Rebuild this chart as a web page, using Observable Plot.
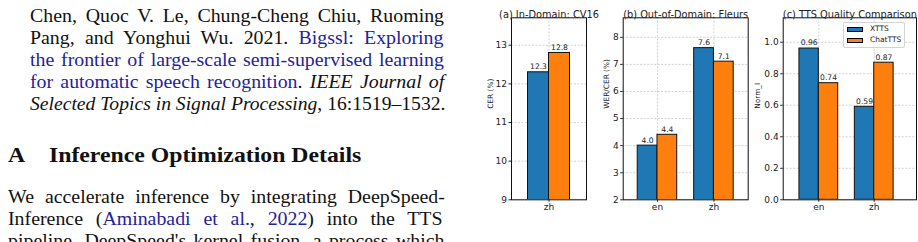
<!DOCTYPE html>
<html><head><meta charset="utf-8">
<script src="https://cdn.jsdelivr.net/npm/d3@7"></script>
<script src="https://cdn.jsdelivr.net/npm/@observablehq/plot@0.6"></script>
<style>
body{margin:0;width:918px;height:242px;overflow:hidden;background:#fff;position:relative;}
.t{position:absolute;font-family:"Liberation Serif","Times New Roman",serif;font-size:18.4px;line-height:22px;color:#111;white-space:nowrap;transform:scaleX(1.08);transform-origin:0 0;}
.l{color:#23239b;}
.chart{position:absolute;top:0;}
#legend{position:absolute;left:843px;top:21.5px;width:62px;height:26px;box-sizing:border-box;border:1px solid #d4d4d4;border-radius:2px;background:rgba(255,255,255,0.85);font-family:"DejaVu Sans",sans-serif;font-size:7.5px;color:#222;}
.lp{position:absolute;left:3px;width:15.5px;height:5px;box-sizing:border-box;border:1px solid #000;}
.lt{position:absolute;left:26px;line-height:8px;}
</style></head>
<body>
<div class="t j" data-w="414" style="left:30px;top:4.7px;">Chen, Quoc V. Le, Chung-Cheng Chiu, Ruoming</div>
<div class="t j" data-w="414" style="left:30px;top:26.7px;">Pang, and Yonghui Wu. 2021. <span class="l">Bigssl: Exploring</span></div>
<div class="t j l" data-w="414" style="left:30px;top:48.7px;">the frontier of large-scale semi-supervised learning</div>
<div class="t j" data-w="414" style="left:30px;top:70.7px;"><span class="l">for automatic speech recognition</span>. <i>IEEE Journal of</i></div>
<div class="t j" data-w="415" style="left:30px;top:92.7px;"><i>Selected Topics in Signal Processing</i>, 16:1519–1532.</div>
<div class="t" style="left:8px;top:142.3px;font-size:22px;line-height:26px;font-weight:bold;">A<span style="display:inline-block;width:22px"></span>Inference Optimization Details</div>
<div class="t j" data-w="437" style="left:8px;top:186.2px;">We accelerate inference by integrating DeepSpeed-</div>
<div class="t j" data-w="435" style="left:8px;top:208.2px;">Inference (<span class="l">Aminabadi et al.</span>, <span class="l">2022</span>) into the TTS</div>
<div class="t j" data-w="436" style="left:8px;top:230.2px;">pipeline. DeepSpeed's kernel fusion, a process which</div>

<div id="ca" class="chart" style="left:460px;"></div>
<div id="cb" class="chart" style="left:600px;"></div>
<div id="cc" class="chart" style="left:750px;"></div>
<div id="legend"></div>

<script>
// ---- data ----
const seriesNames = ["XTTS", "ChatTTS"];
const seriesColors = ["#1f77b4", "#ff7f0e"];

const titleA = "(a) In-Domain: CV16";
const ylabelA = "CER (%)";
const catsA = ["zh"];
const xttsA = [12.3];
const chatA = [12.8];
const yTicksA = [9, 10, 11, 12, 13];

const titleB = "(b) Out-of-Domain: Fleurs";
const ylabelB = "WER/CER (%)";
const catsB = ["en", "zh"];
const xttsB = [4.0, 7.6];
const chatB = [4.4, 7.1];
const yTicksB = [2, 3, 4, 5, 6, 7, 8];

const titleC = "(c) TTS Quality Comparison";
const ylabelC = "Norm_I";
const catsC = ["en", "zh"];
const xttsC = [0.96, 0.59];
const chatC = [0.74, 0.87];
const yTicksC = [0.0, 0.2, 0.4, 0.6, 0.8, 1.0];

const W = 0.35; // bar width in category units

// justify paper text lines to their measured widths
const SX = 1.08;
document.querySelectorAll(".j").forEach(el => {
  const target = parseFloat(el.dataset.w) / SX;
  const nat = el.offsetWidth;
  const spaces = el.textContent.split(" ").length - 1;
  if (nat <= target) {
    el.style.wordSpacing = ((target - nat) / spaces) + "px";
  } else {
    el.style.transform = "scaleX(" + (SX * target / nat) + ")";
  }
});

function makeChart(o) {
  const rows = [];
  o.cats.forEach((c, i) => {
    rows.push({cat: c, i, j: 0, series: seriesNames[0], value: o.xtts[i]});
    rows.push({cat: c, i, j: 1, series: seriesNames[1], value: o.chat[i]});
  });
  const idx = o.cats.map((c, i) => i);
  const gridStyle = {stroke: "#b8b8b8", strokeOpacity: 0.8, strokeDasharray: "2,1.5", strokeWidth: 0.8};
  return Plot.plot({
    width: o.width, height: 242,
    marginLeft: o.ml, marginRight: o.mr, marginTop: 17.3, marginBottom: 42.7,
    style: {fontFamily: "DejaVu Sans, sans-serif", fontSize: "9px", color: "#222", background: "transparent", overflow: "visible"},
    x: {type: "linear", domain: o.xDomain, label: null},
    y: {domain: o.yDomain, label: null},
    color: {domain: seriesNames, range: seriesColors},
    marks: [
      Plot.gridY(o.yTicks, gridStyle),
      Plot.gridX(idx, gridStyle),
      Plot.rectY(rows, {x1: d => d.i - W + d.j * W, x2: d => d.i + d.j * W, y: "value", fill: "series", stroke: "#111", strokeWidth: 1, clip: true}),
      Plot.text(rows, {x: d => d.i - W / 2 + d.j * W, y: "value", text: d => o.fmt(d.value), dy: -5.5, fontSize: 7.6, fill: "#222"}),
      Plot.axisY(o.yTicks, {tickFormat: o.tickFmt, tickSize: 2.5, tickPadding: 2, label: null}),
      Plot.axisX(idx, {tickFormat: i => o.cats[i], tickSize: 2.5, tickPadding: 1.5, label: null}),
      Plot.frame({stroke: "#111", strokeWidth: 1}),
      Plot.text([o.title], {text: d => d, frameAnchor: "top", dy: -6.5, fontSize: 9.8, fill: "#222"}),
      Plot.text([o.ylabel], {text: d => d, frameAnchor: "left", rotate: -90, dx: -o.lab, fontSize: 7.4, fill: "#222"})
    ]
  });
}

document.getElementById("ca").append(makeChart({
  cats: catsA, xtts: xttsA, chat: chatA, yTicks: yTicksA, title: titleA, ylabel: ylabelA,
  width: 140, ml: 51, mr: 14, xDomain: [-0.625, 0.625], yDomain: [9, 13.71],
  fmt: d3.format(".1f"), tickFmt: d3.format("d"), lab: 21
}));
document.getElementById("cb").append(makeChart({
  cats: catsB, xtts: xttsB, chat: chatB, yTicks: yTicksB, title: titleB, ylabel: ylabelB,
  width: 150, ml: 22.7, mr: 2.3, xDomain: [-0.607, 1.607], yDomain: [2, 8.72],
  fmt: d3.format(".1f"), tickFmt: d3.format("d"), lab: 16.7
}));
document.getElementById("cc").append(makeChart({
  cats: catsC, xtts: xttsC, chat: chatC, yTicks: yTicksC, title: titleC, ylabel: ylabelC,
  width: 168, ml: 32.7, mr: 2, xDomain: [-0.643, 1.763], yDomain: [0, 1.155],
  fmt: d3.format(".2f"), tickFmt: d3.format(".1f"), lab: 25.7
}));

// legend
const lg = document.getElementById("legend");
seriesNames.forEach((s, k) => {
  const p = document.createElement("div");
  p.className = "lp";
  p.style.top = (4.5 + k * 11) + "px";
  p.style.background = seriesColors[k];
  const t = document.createElement("div");
  t.className = "lt";
  t.style.top = (2.8 + k * 11) + "px";
  t.textContent = s;
  lg.append(p, t);
});
</script>
</body></html>
